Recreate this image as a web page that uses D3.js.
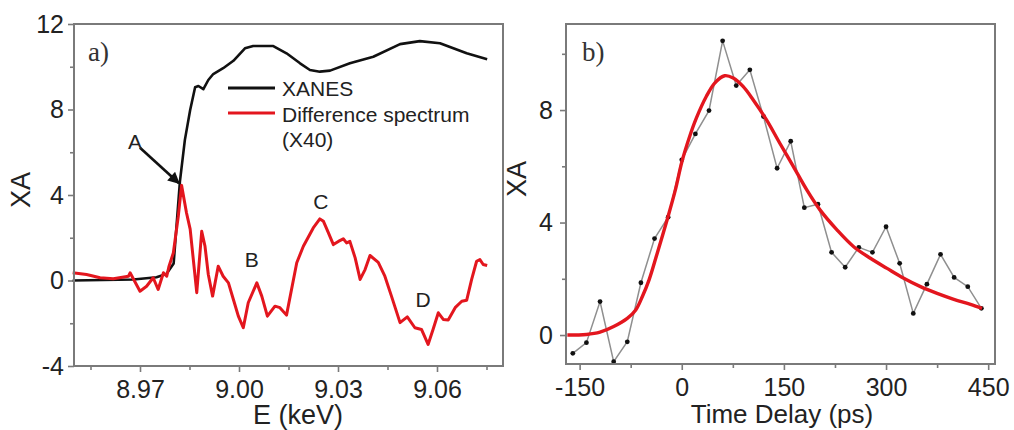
<!DOCTYPE html>
<html>
<head>
<meta charset="utf-8">
<script src="https://cdn.jsdelivr.net/npm/d3@7"></script>
<style>
  body { margin: 0; background: #fff; }
  svg { font-family: "Liberation Sans", Arial, sans-serif; }
</style>
</head>
<body>
<div id="chart"></div>
<script>
// Data
// ==================================================================
// panel a) XANES (black) and difference spectrum x40 (red), E in keV
const xanesE = [8.9496, 8.968, 8.975, 8.978, 8.9802, 8.9821, 8.9836, 8.9852, 8.9867, 8.9877, 8.9892,
    8.9907, 8.9922, 8.9952, 8.9983, 9.0018, 9.0043, 9.0104, 9.0144, 9.0185, 9.0215, 9.0245, 9.0276,
    9.0336, 9.0407, 9.0488, 9.0548, 9.0609, 9.069, 9.0752];
const xanesA = [0, 0.05, 0.15, 0.3, 0.8, 4.64, 6.58, 7.98, 9.04, 9.10, 8.95,
    9.38, 9.66, 9.93, 10.28, 10.86, 10.97, 10.97, 10.63, 10.16, 9.85, 9.77, 9.82,
    10.16, 10.47, 11.06, 11.2, 11.1, 10.63, 10.35];

const diffE = [8.9496, 8.9538, 8.9579, 8.9619, 8.9665, 8.967, 8.97, 8.972, 8.974, 8.9755, 8.9771,
    8.9781, 8.9788, 8.9801, 8.9816, 8.9826, 8.9841, 8.9852, 8.9872, 8.9887, 8.9897, 8.9907, 8.992,
    8.9937, 8.9952, 8.9968, 8.9983, 8.9998, 9.0013, 9.0028, 9.0054, 9.0069, 9.0086, 9.0109, 9.0124,
    9.0144, 9.0175, 9.0195, 9.0225, 9.0245, 9.0256, 9.0271, 9.0286, 9.0301, 9.0316, 9.0326, 9.0336,
    9.0352, 9.0367, 9.0382, 9.0397, 9.0422, 9.0442, 9.0462, 9.0488, 9.051, 9.0533, 9.0553, 9.0573,
    9.0588, 9.0604, 9.0619, 9.0634, 9.0655, 9.0675, 9.069, 9.0705, 9.072, 9.073, 9.074, 9.0752];
const diffA = [0.36, 0.28, 0.13, 0.08, 0.2, 0.36, -0.5, -0.27, 0.13, -0.42, 0.36,
    0.2, 0.67, 1.29, 3.0, 4.45, 3.16, 2.4, -0.57, 2.3, 1.6, 0.28, -0.73,
    0.67, 0.2, -0.11, -0.89, -1.67, -2.21, -1.04, -0.11, -0.73, -1.67, -1.2, -1.27,
    -1.62, 0.83, 1.6, 2.46, 2.88, 2.77, 2.23, 1.68, 1.83, 1.95, 1.76, 1.83,
    1.06, 0.05, 0.51, 1.17, 0.85, 0.2, -0.73, -1.97, -1.70, -2.21, -2.29, -2.99,
    -2.29, -1.51, -1.82, -1.85, -1.27, -0.97, -0.92, 0.05, 0.9, 0.98, 0.75, 0.70];

// panel b) measured points and fit
const delayT = [-160, -140, -120, -100, -80, -60, -40, -20, 0, 20, 40, 60, 80, 100, 120, 140, 160,
    180, 200, 220, 240, 260, 280, 300, 320, 340, 360, 380, 400, 420, 440];
const delayA = [-0.65, -0.27, 1.19, -0.95, -0.24, 1.86, 3.43, 4.19, 6.23, 7.15, 7.98, 10.46, 8.87,
    9.43, 7.77, 5.93, 6.89, 4.53, 4.65, 2.94, 2.41, 3.12, 2.94, 3.85, 2.55, 0.77, 1.81, 2.87,
    2.05, 1.72, 0.95];

const fitT = [-168, -140, -120, -100, -80, -67.6, -58, -48, -36, -21.6, -9.4, 0.3, 11.6, 21.4, 36,
    48.4, 63, 75.5, 90, 105, 124.5, 144, 164, 183.6, 203, 227.9, 252.5, 277, 301.5, 326, 350.6,
    375, 399.5, 424, 441];
const fitA = [0, 0.02, 0.1, 0.3, 0.59, 0.89, 1.36, 1.96, 2.91, 4.09, 5.16, 6.17, 7.06, 7.71, 8.48,
    8.96, 9.22, 9.14, 8.84, 8.36, 7.65, 6.82, 5.99, 5.16, 4.45, 3.74, 3.14, 2.73, 2.37, 2.02, 1.72,
    1.48, 1.27, 1.09, 0.95];

// ticks and labels
const aTicksX = [8.97, 9.00, 9.03, 9.06],
    aMinorX = [8.955, 8.985, 9.015, 9.045, 9.075],
    aTicksY = [-4, 0, 4, 8, 12],
    aMinorY = [-2, 2, 6, 10];
const bTicksX = [-150, 0, 150, 300, 450],
    bMinorX = [-75, 75, 225, 375],
    bTicksY = [0, 4, 8],
    bMinorY = [2, 6, 10];
const peakLabels = [
    {name: "A", e: 8.9685, a: 6.49},
    {name: "B", e: 9.0039, a: 0.98},
    {name: "C", e: 9.0248, a: 3.69},
    {name: "D", e: 9.0558, a: -0.89}
];
const arrowFrom = {e: 8.9700, a: 6.21},
    arrowTo = {e: 8.9818, a: 4.55};
const legendNames = ["XANES", "Difference spectrum", "(X40)"];

// Layout
// ==================================================================
const W = 1014, H = 430,
    red = "#e3161e",
    frameColor = "#7a7a7a",
    tickFont = "25px",
    titleFont = "27px";

const svg = d3.select("#chart").append("svg")
    .attr("width", W)
    .attr("height", H);

const fmtInt = d => String(d);

// box round the plot area, four sides
function draw_frame(g, x, y) {
    const [x0, x1] = x.range(), [y1, y0] = y.range();
    g.append("path")
        .attr("d", "M" + x0 + "," + y0 + "H" + x1 + "V" + y1 + "H" + x0 + "Z")
        .style("fill", "none")
        .style("stroke", frameColor)
        .style("stroke-width", "2px");
}

function draw_axes(g, x, y, ticksX, minorX, ticksY, minorY, fmtX, padY) {
    const bottom = y.range()[0], left = x.range()[0];

    g.append("g")
        .attr("transform", "translate(0," + bottom + ")")
        .call(d3.axisBottom(x).tickValues(ticksX).tickFormat(fmtX).tickSize(6).tickPadding(8));
    g.append("g")
        .attr("transform", "translate(0," + bottom + ")")
        .call(d3.axisBottom(x).tickValues(minorX).tickFormat(() => "").tickSize(4));

    g.append("g")
        .attr("transform", "translate(" + left + ",0)")
        .call(d3.axisLeft(y).tickValues(ticksY).tickFormat(fmtInt).tickSize(6).tickPadding(padY));
    g.append("g")
        .attr("transform", "translate(" + left + ",0)")
        .call(d3.axisLeft(y).tickValues(minorY).tickFormat(() => "").tickSize(4));

    g.selectAll(".domain").remove();
    g.selectAll(".tick line").attr("stroke", frameColor).attr("stroke-width", 1.6);
    g.selectAll(".tick text")
        .attr("font-size", tickFont)
        .attr("font-family", "'Liberation Sans', Arial, sans-serif")
        .attr("fill", "#222");
}

// Panel a
// ==================================================================
const xa = d3.scaleLinear().domain([8.95, 9.08]).range([74, 503]);
const ya = d3.scaleLinear().domain([-4, 12]).range([366, 24]);
const ga = svg.append("g");

draw_axes(ga, xa, ya, aTicksX, aMinorX, aTicksY, aMinorY, d3.format(".2f"), 4);

const lineA = d3.line()
    .x(d => xa(d[0]))
    .y(d => ya(d[1]));

ga.append("path")
    .datum(d3.zip(xanesE, xanesA))
    .attr("d", lineA)
    .attr("fill", "none")
    .attr("stroke", "#111")
    .attr("stroke-width", 2.6)
    .attr("stroke-linejoin", "round");

ga.append("path")
    .datum(d3.zip(diffE, diffA))
    .attr("d", lineA)
    .attr("fill", "none")
    .attr("stroke", red)
    .attr("stroke-width", 3)
    .attr("stroke-linejoin", "round");

draw_frame(ga, xa, ya);

// legend
legendNames.slice(0, 2).forEach((name, i) => {
    ga.append("line")
        .attr("x1", 228).attr("x2", 275)
        .attr("y1", 88 + i * 25).attr("y2", 88 + i * 25)
        .attr("stroke", i === 0 ? "#111" : red)
        .attr("stroke-width", 3);
});
ga.selectAll("text.legend")
    .data(legendNames)
    .enter()
    .append("text")
        .attr("class", "legend")
        .attr("x", 282)
        .attr("y", (d, i) => 96 + i * 25.5)
        .attr("font-size", "21px")
        .attr("fill", "#222")
        .text(d => d);

// annotations
svg.append("defs").append("marker")
    .attr("id", "arrow")
    .attr("viewBox", "0 0 10 10")
    .attr("refX", 9).attr("refY", 5)
    .attr("markerWidth", 5).attr("markerHeight", 4.5)
    .attr("orient", "auto")
    .append("path")
        .attr("d", "M0,0 L10,5 L0,10 z")
        .attr("fill", "#111");

ga.append("line")
    .attr("x1", xa(arrowFrom.e)).attr("y1", ya(arrowFrom.a))
    .attr("x2", xa(arrowTo.e)).attr("y2", ya(arrowTo.a))
    .attr("stroke", "#111")
    .attr("stroke-width", 2.6)
    .attr("marker-end", "url(#arrow)");

ga.selectAll("text.peak")
    .data(peakLabels)
    .enter()
    .append("text")
        .attr("class", "peak")
        .attr("x", d => xa(d.e))
        .attr("y", d => ya(d.a))
        .attr("dy", "0.36em")
        .attr("text-anchor", "middle")
        .attr("font-size", "21px")
        .attr("fill", "#222")
        .text(d => d.name);

ga.append("text")
    .attr("x", 88).attr("y", 61)
    .attr("font-family", "'Liberation Serif', 'Times New Roman', serif")
    .attr("font-size", "27px")
    .attr("fill", "#333")
    .text("a)");

ga.append("text")
    .attr("x", 298).attr("y", 424)
    .attr("text-anchor", "middle")
    .attr("font-size", titleFont)
    .attr("fill", "#222")
    .text("E (keV)");

ga.append("text")
    .attr("transform", "translate(30,190) rotate(-90)")
    .attr("text-anchor", "middle")
    .attr("font-size", titleFont)
    .attr("fill", "#222")
    .text("XA");

// Panel b
// ==================================================================
const xb = d3.scaleLinear().domain([-170, 460]).range([566, 995]);
const yb = d3.scaleLinear().domain([-1.03, 11.06]).range([364, 24]);
const gb = svg.append("g");

draw_axes(gb, xb, yb, bTicksX, bMinorX, bTicksY, bMinorY, fmtInt, 7);

const lineB = d3.line()
    .x(d => xb(d[0]))
    .y(d => yb(d[1]));

gb.append("path")
    .datum(d3.zip(delayT, delayA))
    .attr("d", lineB)
    .attr("fill", "none")
    .attr("stroke", "#8f8f8f")
    .attr("stroke-width", 1.5);

gb.selectAll("circle.pt")
    .data(d3.zip(delayT, delayA))
    .enter()
    .append("circle")
        .attr("class", "pt")
        .attr("cx", d => xb(d[0]))
        .attr("cy", d => yb(d[1]))
        .attr("r", 2.4)
        .attr("fill", "#111");

const fitLine = d3.line()
    .x(d => xb(d[0]))
    .y(d => yb(d[1]))
    .curve(d3.curveCatmullRom);

gb.append("path")
    .datum(d3.zip(fitT, fitA))
    .attr("d", fitLine)
    .attr("fill", "none")
    .attr("stroke", red)
    .attr("stroke-width", 3.4);

draw_frame(gb, xb, yb);

gb.append("text")
    .attr("x", 582).attr("y", 61)
    .attr("font-family", "'Liberation Serif', 'Times New Roman', serif")
    .attr("font-size", "27px")
    .attr("fill", "#333")
    .text("b)");

gb.append("text")
    .attr("x", 782).attr("y", 423)
    .attr("text-anchor", "middle")
    .attr("font-size", "26px")
    .attr("fill", "#222")
    .text("Time Delay (ps)");

gb.append("text")
    .attr("transform", "translate(526,179) rotate(-90)")
    .attr("text-anchor", "middle")
    .attr("font-size", titleFont)
    .attr("fill", "#222")
    .text("XA");
</script>
</body>
</html>
